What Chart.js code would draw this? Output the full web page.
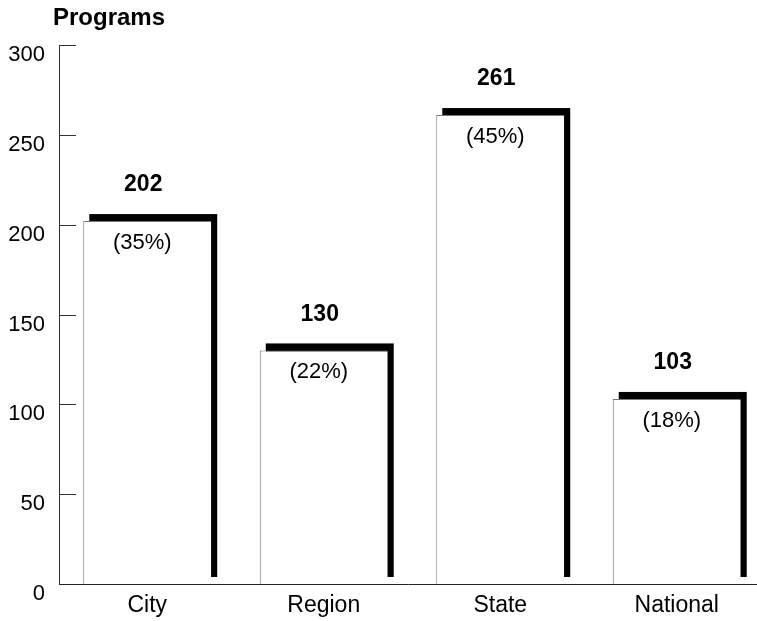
<!DOCTYPE html>
<html>
<head>
<meta charset="utf-8">
<script src="https://cdn.jsdelivr.net/npm/chart.js@4/dist/chart.umd.min.js"></script>
<style>
  html, body { margin: 0; padding: 0; background: #fff; }
  #c { display: block; }
</style>
</head>
<body>
<canvas id="c" width="757" height="621"></canvas>
<script>
const categories = ['City', 'Region', 'State', 'National'];
const programs = [202, 130, 261, 103];
const sharePercents = [35, 22, 45, 18];
const axisTitle = 'Programs';
const yMin = 0, yMax = 300, yStep = 50;

const FONT = "'Liberation Sans', Arial, Helvetica, sans-serif";

const extendPlugin = {
  id: 'extendX',
  afterLayout(chart) {
    const xs = chart.scales.x;
    const newRight = 765;
    xs.right = newRight;
    xs.width = newRight - xs.left;
    chart.chartArea.right = newRight;
    chart.chartArea.width = newRight - chart.chartArea.left;
    xs.configure();
  }
};

const shadowPlugin = {
  id: 'shadow',
  beforeDatasetsDraw(chart) {
    const ctx = chart.ctx;
    const meta = chart.getDatasetMeta(0);
    ctx.save();
    ctx.fillStyle = '#000';
    meta.data.forEach(bar => {
      const p = bar.getProps(['x', 'y', 'base', 'width'], true);
      const left = p.x - p.width / 2 + 6;
      const top = p.y - 7;
      ctx.fillRect(left, top, p.width, p.base - p.y);
    });
    ctx.restore();
  }
};

const labelPlugin = {
  id: 'labels',
  afterDatasetsDraw(chart) {
    const ctx = chart.ctx;
    const meta = chart.getDatasetMeta(0);
    ctx.save();
    ctx.fillStyle = '#000';
    ctx.textAlign = 'center';
    ctx.textBaseline = 'middle';
    meta.data.forEach((bar, i) => {
      const p = bar.getProps(['x', 'y'], true);
      ctx.font = 'bold 23px ' + FONT;
      ctx.fillText(String(programs[i]), p.x - 4, p.y - 36);
      ctx.font = '22px ' + FONT;
      ctx.fillText('(' + sharePercents[i] + '%)', p.x - 5, p.y + 22);
    });
    ctx.restore();
  },
  afterDraw(chart) {
    const ctx = chart.ctx;
    const ys = chart.scales.y;
    ctx.save();
    ctx.strokeStyle = '#333';
    ctx.lineWidth = 1;
    ys.ticks.forEach(t => {
      if (t.value === 0) return;
      const py = Math.round(ys.getPixelForValue(t.value)) + 0.5;
      ctx.beginPath();
      ctx.moveTo(ys.right, py);
      ctx.lineTo(ys.right + 17, py);
      ctx.stroke();
    });
    ctx.fillStyle = '#000';
    ctx.font = 'bold 24px ' + FONT;
    ctx.textAlign = 'left';
    ctx.textBaseline = 'alphabetic';
    ctx.fillText(axisTitle, 53, 25);
    ctx.restore();
  }
};

new Chart(document.getElementById('c'), {
  type: 'bar',
  data: {
    labels: categories,
    datasets: [{
      data: programs,
      backgroundColor: '#fff',
      borderColor: '#777',
      borderWidth: { left: 1, top: 1, right: 0, bottom: 0 },
      borderSkipped: false,
      categoryPercentage: 1,
      barPercentage: 0.725,
      clip: false
    }]
  },
  options: {
    responsive: false,
    animation: false,
    devicePixelRatio: 1,
    layout: { padding: { left: 0, right: 0, top: 45, bottom: 0 } },
    plugins: {
      legend: { display: false },
      tooltip: { enabled: false },
      title: { display: false }
    },
    scales: {
      x: {
        grid: { display: false, drawTicks: false },
        border: { display: true, color: '#222', width: 1 },
        ticks: { color: '#000', font: { family: FONT, size: 23 }, padding: 8 },
        afterFit(scale) { scale.height = 37; }
      },
      y: {
        min: yMin,
        max: yMax,
        grid: { display: false, drawTicks: false },
        border: { display: true, color: '#333', width: 1 },
        ticks: { stepSize: yStep, color: '#000', font: { family: FONT, size: 22 }, padding: 14, labelOffset: 10 },
        afterFit(scale) { scale.width = 59; }
      }
    }
  },
  plugins: [extendPlugin, shadowPlugin, labelPlugin]
});
</script>
</body>
</html>
